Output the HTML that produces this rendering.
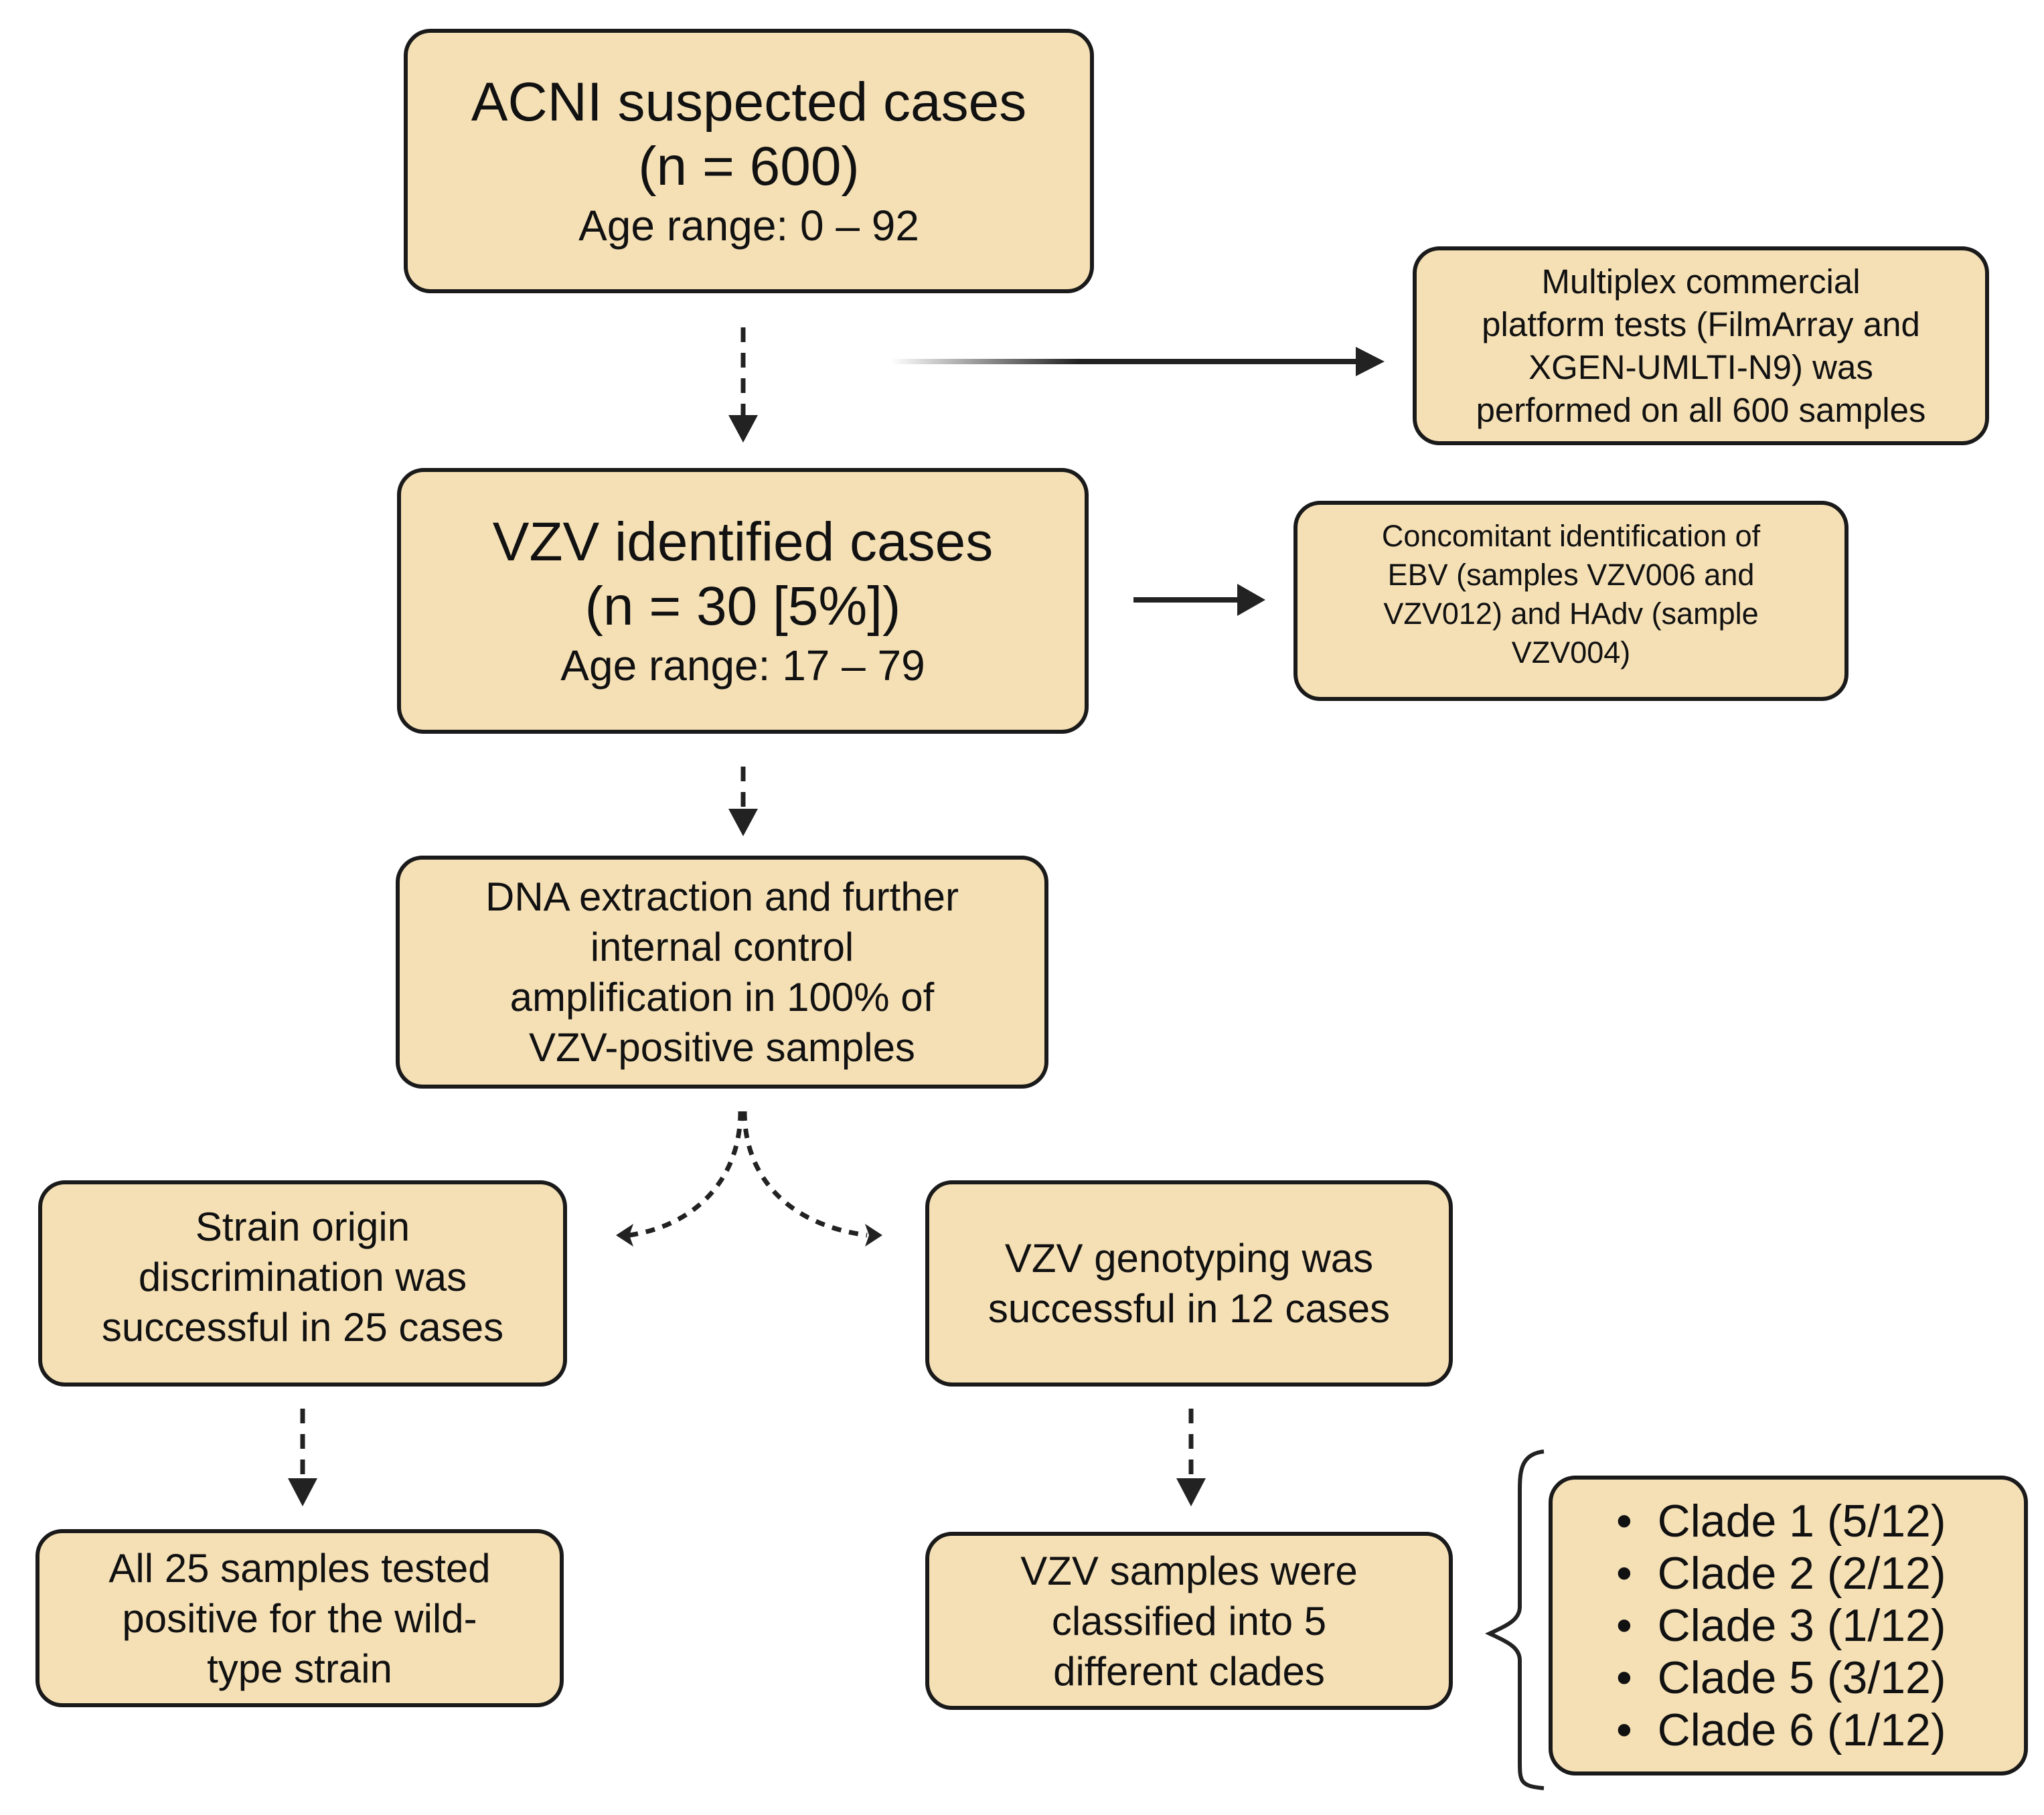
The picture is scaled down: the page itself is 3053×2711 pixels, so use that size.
<!DOCTYPE html>
<html><head><meta charset="utf-8"><style>
body{margin:0;width:3053px;height:2711px;background:#fff;position:relative;overflow:hidden;font-family:"Liberation Sans",sans-serif;color:#111}
.b{position:absolute;box-sizing:border-box;background:#f5e0b5;border:6px solid #1a1a1a;border-radius:40px;display:flex;flex-direction:column;justify-content:center;align-items:center;text-align:center;white-space:nowrap}
svg{position:absolute;left:0;top:0}
</style></head><body>
<svg width="3053" height="2711" viewBox="0 0 3053 2711">
<defs>
<linearGradient id="g" gradientUnits="userSpaceOnUse" x1="1331" y1="0" x2="2030" y2="0"><stop offset="0" stop-color="#222" stop-opacity="0"/><stop offset="0.4" stop-color="#222"/><stop offset="1" stop-color="#222"/></linearGradient>
</defs>
<g stroke="#222" stroke-width="7" fill="none" stroke-dasharray="22 16">
<line x1="1110" y1="489" x2="1110" y2="620"/>
<line x1="1110" y1="1145" x2="1110" y2="1210"/>
<line x1="452" y1="2104" x2="452" y2="2210"/>
<line x1="1779" y1="2104" x2="1779" y2="2210"/>
<path d="M1106 1660 C1106 1760 1040 1830 940 1845" stroke-dasharray="14 12"/>
<path d="M1112 1660 C1112 1760 1180 1830 1295 1845" stroke-dasharray="14 12"/>
</g>
<rect x="1331" y="536" width="700" height="8" fill="url(#g)"/>
<line x1="1693" y1="896" x2="1860" y2="896" stroke="#222" stroke-width="8"/>
<g fill="#222">
<polygon points="1088,620 1132,620 1110,661"/>
<polygon points="1088,1208 1132,1208 1110,1249"/>
<polygon points="430,2208 474,2208 452,2250"/>
<polygon points="1757,2208 1801,2208 1779,2250"/>
<polygon points="2025,518 2068,540 2025,562"/>
<polygon points="1848,872 1890,896 1848,920"/>
<polygon points="920,1845 946,1828 940,1845 946,1862"/>
<polygon points="1318,1845 1292,1828 1298,1845 1292,1862"/>
</g>
<path d="M2306 2168 C2270 2172 2270 2200 2270 2230 L2270 2400 C2270 2420 2250 2428 2225 2440 C2250 2452 2270 2460 2270 2480 L2270 2630 C2270 2660 2270 2668 2306 2671" stroke="#222" stroke-width="6" fill="none"/>
</svg>
<div class="b" style="left:603px;top:43px;width:1031px;height:395px;font-size:82px;line-height:96px"><div>ACNI suspected cases<br>(n = 600)</div><div style="font-size:64px;line-height:80px">Age range: 0 – 92</div></div>
<div class="b" style="left:2110px;top:368px;width:861px;height:297px;font-size:51px;line-height:64px">Multiplex commercial<br>platform tests (FilmArray and<br>XGEN-UMLTI-N9) was<br>performed on all 600 samples</div>
<div class="b" style="left:593px;top:699px;width:1033px;height:397px;font-size:82px;line-height:96px"><div>VZV identified cases<br>(n = 30 [5%])</div><div style="font-size:64px;line-height:80px">Age range: 17 – 79</div></div>
<div class="b" style="left:1932px;top:748px;width:829px;height:299px;font-size:45px;line-height:58px;padding-bottom:20px">Concomitant identification of<br>EBV (samples VZV006 and<br>VZV012) and HAdv (sample<br>VZV004)</div>
<div class="b" style="left:591px;top:1278px;width:975px;height:348px;font-size:60px;line-height:75px">DNA extraction and further<br>internal control<br>amplification in 100% of<br>VZV-positive samples</div>
<div class="b" style="left:57px;top:1763px;width:790px;height:308px;font-size:60px;line-height:75px;padding-bottom:20px">Strain origin<br>discrimination was<br>successful in 25 cases</div>
<div class="b" style="left:1382px;top:1763px;width:788px;height:308px;font-size:60px;line-height:75px">VZV genotyping was<br>successful in 12 cases</div>
<div class="b" style="left:53px;top:2284px;width:789px;height:266px;font-size:60px;line-height:75px">All 25 samples tested<br>positive for the wild-<br>type strain</div>
<div class="b" style="left:1382px;top:2288px;width:788px;height:266px;font-size:60px;line-height:75px">VZV samples were<br>classified into 5<br>different clades</div>
<div class="b" style="left:2313px;top:2204px;width:716px;height:448px;font-size:68px;line-height:78px;align-items:flex-start;padding-left:95px;text-align:left"><div>•&nbsp;&nbsp;Clade 1 (5/12)<br>•&nbsp;&nbsp;Clade 2 (2/12)<br>•&nbsp;&nbsp;Clade 3 (1/12)<br>•&nbsp;&nbsp;Clade 5 (3/12)<br>•&nbsp;&nbsp;Clade 6 (1/12)</div></div>
</body></html>
